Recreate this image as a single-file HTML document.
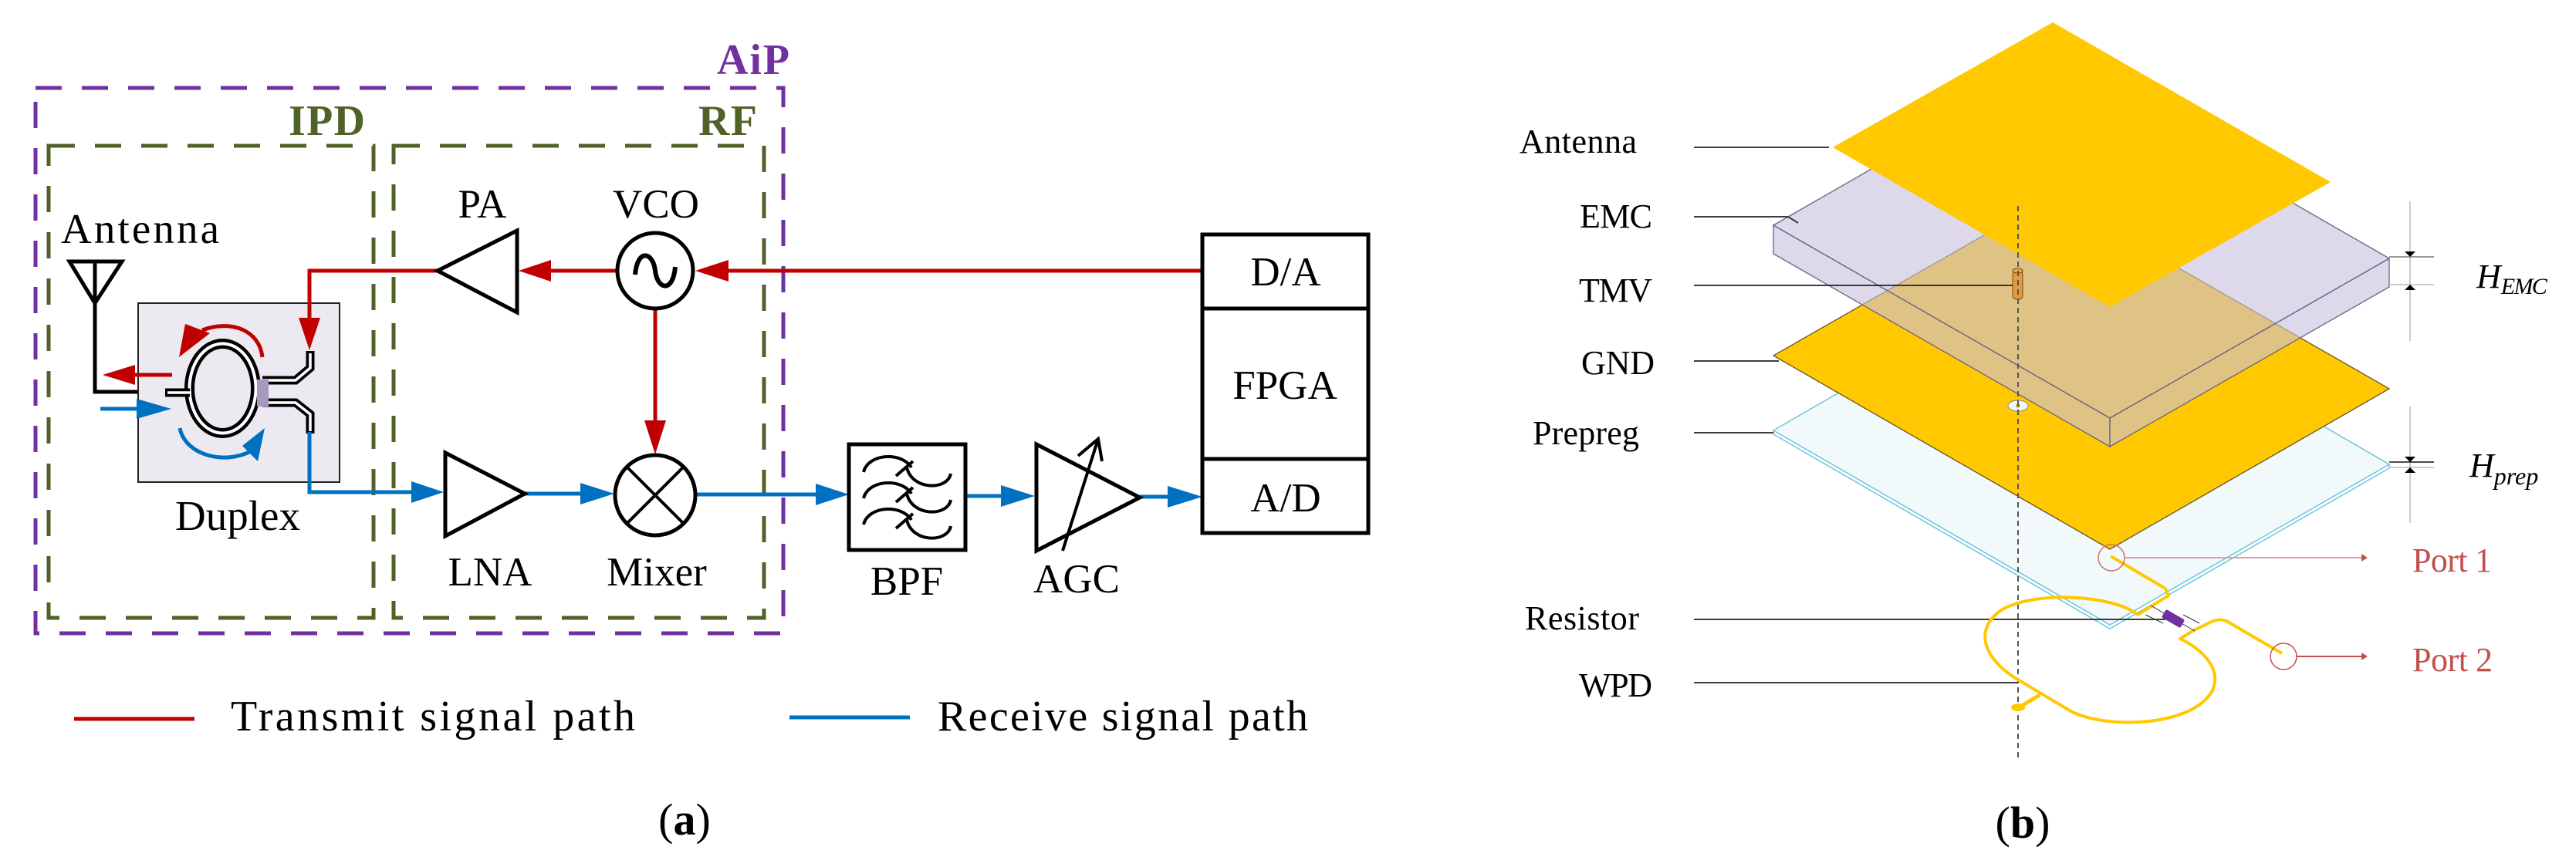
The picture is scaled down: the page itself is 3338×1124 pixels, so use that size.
<!DOCTYPE html>
<html><head><meta charset="utf-8"><style>
html,body{margin:0;padding:0;background:#fff;}
svg{display:block;}
text{font-family:"Liberation Serif",serif;}
</style></head><body>
<svg width="3338" height="1124" viewBox="0 0 3338 1124" xmlns="http://www.w3.org/2000/svg">
<rect width="3338" height="1124" fill="#fff"/>
<!-- ===== Panel (a) ===== -->
<g fill="none" stroke-width="5">
<rect x="46" y="114" width="969" height="707" stroke="#7030A0" stroke-dasharray="34,26"/>
<rect x="63" y="189" width="421" height="612" stroke="#4F6228" stroke-dasharray="34,26"/>
<rect x="510" y="189" width="480" height="612" stroke="#4F6228" stroke-dasharray="34,26"/>
</g>
<text x="929" y="96" font-size="56" font-weight="bold" fill="#7030A0" textLength="94">AiP</text>
<text x="374" y="175" font-size="56" font-weight="bold" fill="#4F6228" textLength="99">IPD</text>
<text x="905" y="175" font-size="56" font-weight="bold" fill="#4F6228" textLength="76">RF</text>
<text x="79" y="315" font-size="55" textLength="205">Antenna</text>
<!-- antenna symbol -->
<g stroke="#000" stroke-width="5" fill="none">
<polygon points="90,339 158,339 123,393"/>
<line x1="123" y1="339" x2="123" y2="393"/>
<polyline points="123,393 123,508 214,508"/>
</g>
<!-- duplex -->
<rect x="179" y="393" width="261" height="232" fill="#ECE9F1" stroke="#222" stroke-width="2"/>
<g fill="none" stroke-linejoin="miter">
<ellipse cx="288.5" cy="503.5" rx="43" ry="58" stroke="#000" stroke-width="13"/>
<ellipse cx="288.5" cy="503.5" rx="43" ry="58" stroke="#fff" stroke-width="4"/>
<polyline points="340,493 383,493 402,477 402,455" stroke="#000" stroke-width="11"/>
<polyline points="340,493 383,493 402,477 402,458" stroke="#fff" stroke-width="3.5"/>
<polyline points="340,522 383,522 402,537 402,562" stroke="#000" stroke-width="11"/>
<polyline points="340,522 383,522 402,537 402,559" stroke="#fff" stroke-width="3.5"/>
<polyline points="214,509 246,509" stroke="#000" stroke-width="11"/>
<polyline points="217,509 248,509" stroke="#fff" stroke-width="3.5"/>
</g>
<rect x="333" y="492" width="15" height="35" fill="#A898BE"/>
<!-- red arrows in duplex -->
<line x1="223" y1="486" x2="172" y2="486" stroke="#C00000" stroke-width="5"/>
<polygon points="133,486 175,473 175,499" fill="#C00000"/>
<path d="M340,463 C336,428 300,414 262,428" fill="none" stroke="#C00000" stroke-width="5"/>
<polygon points="232,463 240,420 272,432" fill="#C00000"/>
<line x1="130" y1="530" x2="180" y2="530" stroke="#0070C0" stroke-width="5"/>
<polygon points="222,530 177,517 177,543" fill="#0070C0"/>
<path d="M233,555 C240,590 290,603 325,585" fill="none" stroke="#0070C0" stroke-width="5"/>
<polygon points="343,555 334,598 314,578" fill="#0070C0"/>
<text x="308" y="687" font-size="55" text-anchor="middle">Duplex</text>
<!-- transmit path -->
<g stroke="#C00000" stroke-width="5" fill="none">
<polyline points="567,351 401,351 401,415"/>
<line x1="800" y1="351" x2="712" y2="351"/>
<line x1="1558" y1="351" x2="942" y2="351"/>
<line x1="849" y1="400" x2="849" y2="547"/>
</g>
<g fill="#C00000">
<polygon points="401,454 387,412 415,412"/>
<polygon points="672,351 714,337 714,365"/>
<polygon points="901,351 944,337 944,365"/>
<polygon points="849,589 835,545 863,545"/>
</g>
<!-- PA -->
<polygon points="567,351 670,299 670,405" fill="#fff" stroke="#000" stroke-width="5"/>
<text x="625" y="282" font-size="53" text-anchor="middle">PA</text>
<!-- VCO -->
<circle cx="849" cy="351" r="49" fill="#fff" stroke="#000" stroke-width="5"/>
<path d="M823,356 C826,322 846,326 849,351 C852,376 872,380 875,346" fill="none" stroke="#000" stroke-width="6"/>
<text x="850" y="282" font-size="53" text-anchor="middle">VCO</text>
<!-- receive path -->
<g stroke="#0070C0" stroke-width="5" fill="none">
<polyline points="401,560 401,638 537,638"/>
<line x1="680" y1="640" x2="754" y2="640"/>
<line x1="901" y1="641" x2="1059" y2="641"/>
<line x1="1251" y1="643" x2="1299" y2="643"/>
<line x1="1477" y1="644" x2="1515" y2="644"/>
</g>
<g fill="#0070C0">
<polygon points="575,638 533,624 533,652"/>
<polygon points="796,640 752,626 752,654"/>
<polygon points="1100,641 1057,627 1057,655"/>
<polygon points="1341,643 1297,629 1297,657"/>
<polygon points="1558,644 1513,630 1513,658"/>
</g>
<!-- LNA -->
<polygon points="577,587 577,695 680,640" fill="#fff" stroke="#000" stroke-width="5"/>
<text x="635" y="759" font-size="53" text-anchor="middle">LNA</text>
<!-- Mixer -->
<circle cx="849" cy="642" r="52" fill="#fff" stroke="#000" stroke-width="5"/>
<line x1="812" y1="605" x2="886" y2="679" stroke="#000" stroke-width="4"/>
<line x1="886" y1="605" x2="812" y2="679" stroke="#000" stroke-width="4"/>
<text x="851" y="759" font-size="53" text-anchor="middle">Mixer</text>
<!-- BPF -->
<rect x="1100" y="576" width="151" height="137" fill="#fff" stroke="#000" stroke-width="5"/>
<g fill="none" stroke="#000" stroke-width="4">
<path d="M1119,612 C1125,588 1168,585 1181,606"/>
<path d="M1119,646 C1125,622 1168,619 1181,640"/>
<path d="M1119,680 C1125,656 1168,653 1181,674"/>
<path d="M1175,606 C1182,636 1228,636 1232,614"/>
<path d="M1175,640 C1182,670 1228,670 1232,648"/>
<path d="M1175,674 C1182,704 1228,704 1232,682"/>
<line x1="1161" y1="617" x2="1183" y2="598"/>
<line x1="1161" y1="651" x2="1183" y2="632"/>
<line x1="1161" y1="685" x2="1183" y2="666"/>
</g>
<text x="1175" y="771" font-size="53" text-anchor="middle">BPF</text>
<!-- AGC -->
<polygon points="1343,576 1343,714 1477,645" fill="#fff" stroke="#000" stroke-width="5"/>
<g stroke="#000" stroke-width="4" fill="none">
<line x1="1377" y1="714" x2="1423" y2="569"/>
<polyline points="1397,591 1423,569 1428,598"/>
</g>
<text x="1395" y="768" font-size="53" text-anchor="middle">AGC</text>
<!-- FPGA -->
<rect x="1558" y="304" width="215" height="387" fill="#fff" stroke="#000" stroke-width="5"/>
<line x1="1558" y1="400" x2="1773" y2="400" stroke="#000" stroke-width="5"/>
<line x1="1558" y1="595" x2="1773" y2="595" stroke="#000" stroke-width="5"/>
<text x="1666" y="370" font-size="53" text-anchor="middle">D/A</text>
<text x="1665" y="517" font-size="53" text-anchor="middle">FPGA</text>
<text x="1666" y="663" font-size="53" text-anchor="middle">A/D</text>
<!-- legend -->
<line x1="96" y1="932" x2="252" y2="932" stroke="#C00000" stroke-width="5"/>
<text x="299" y="947" font-size="56" textLength="524">Transmit signal path</text>
<line x1="1023" y1="930" x2="1179" y2="930" stroke="#0070C0" stroke-width="5"/>
<text x="1215" y="947" font-size="56" textLength="480">Receive signal path</text>
<text x="887" y="1082" font-size="58" text-anchor="middle">(<tspan font-weight="bold">a</tspan>)</text>

<!-- ===== Panel (b) ===== -->
<!-- prepreg -->
<polygon points="2298,558 2660,349 3096,602 2734,810" fill="#F2F9FB" stroke="#6CC5DE" stroke-width="1.5"/>
<polyline points="2298,558 2298,563 2734,815 3096,607 3096,602" fill="none" stroke="#6CC5DE" stroke-width="1.5"/>
<!-- GND -->
<polygon points="2298,461 2660,254 3096,504 2734,712" fill="#FFC800" stroke="#5a4a20" stroke-width="1.2"/>
<circle cx="2615" cy="526" r="1" fill="#fff"/>
<ellipse cx="2615" cy="526" rx="13" ry="7" fill="#F2F8FC" stroke="#888" stroke-width="1"/>
<circle cx="2615" cy="526" r="2.5" fill="#b08a00"/>
<!-- EMC -->
<g fill="#C8C0DC" fill-opacity="0.6" stroke="#6a6088" stroke-width="1.3">
<polygon points="2298,292 2734,542 2734,579 2298,329"/>
<polygon points="2734,542 3096,335 3096,372 2734,579"/>
<polygon points="2298,292 2660,84 3096,335 2734,542"/>
</g>
<!-- TMV -->
<rect x="2608" y="351" width="13" height="37" rx="5" fill="#E39A3E" stroke="#7a4a10" stroke-width="1"/>
<ellipse cx="2614.5" cy="351" rx="6.5" ry="3" fill="#E8A750" stroke="#7a4a10" stroke-width="1"/>
<!-- antenna plate -->
<polygon points="2375,191 2660,29 3020,236 2734,398" fill="#FFC800"/>
<!-- dashed axis -->
<line x1="2615" y1="267" x2="2615" y2="983" stroke="#555" stroke-width="2" stroke-dasharray="7,5"/>
<!-- label lines -->
<g stroke="#222" stroke-width="1.8">
<line x1="2195" y1="191" x2="2370" y2="191"/>
<line x1="2195" y1="281" x2="2317" y2="281"/>
<line x1="2317" y1="281" x2="2330" y2="289"/>
<line x1="2195" y1="370" x2="2608" y2="370"/>
<line x1="2195" y1="468" x2="2305" y2="468"/>
<line x1="2195" y1="561" x2="2298" y2="561"/>
<line x1="2195" y1="803" x2="2806" y2="803"/>
<line x1="2195" y1="885" x2="2615" y2="885"/>
</g>
<g font-size="44">
<text x="1969" y="198" textLength="152">Antenna</text>
<text x="2047" y="295" textLength="94">EMC</text>
<text x="2046" y="391" textLength="95">TMV</text>
<text x="2049" y="485" textLength="95">GND</text>
<text x="1986" y="576" textLength="138">Prepreg</text>
<text x="1976" y="816" textLength="148">Resistor</text>
<text x="2046" y="903" textLength="95">WPD</text>
</g>
<!-- dimensions -->
<g stroke="#bbb" stroke-width="1.5">
<line x1="3123" y1="261" x2="3123" y2="442"/>
<line x1="3123" y1="527" x2="3123" y2="678"/>
<line x1="3096" y1="369" x2="3154" y2="369"/>
<line x1="3096" y1="606" x2="3154" y2="606"/>
</g>
<line x1="3096" y1="333" x2="3154" y2="333" stroke="#777" stroke-width="1.5"/>
<line x1="3096" y1="599" x2="3154" y2="599" stroke="#111" stroke-width="1.5"/>
<g fill="#000">
<polygon points="3116,326 3130,326 3123,333"/>
<polygon points="3116,376 3130,376 3123,369"/>
<polygon points="3116,592 3130,592 3123,599"/>
<polygon points="3116,613 3130,613 3123,606"/>
</g>
<text x="3209" y="373" font-size="44" font-style="italic">H<tspan font-size="30" dy="8" textLength="60">EMC</tspan></text>
<text x="3200" y="618" font-size="44" font-style="italic">H<tspan font-size="32" dy="10">prep</tspan></text>
<!-- WPD -->
<g fill="none" stroke="#FFC800" stroke-width="4" stroke-linejoin="round">
<polyline points="2735,721 2806,763 2810,772 2770,797"/>
<path d="M2770,797 C2740,772 2640,765 2595,790 C2560,812 2565,850 2613,880 L2680,920 C2720,945 2840,945 2867,895 C2880,865 2850,840 2825,828 L2843,817 L2868,805 C2880,801 2887,806 2890,808 L2957,847"/>
<line x1="2643" y1="901" x2="2618" y2="916" stroke-width="5"/>
</g>
<ellipse cx="2615" cy="917" rx="9" ry="5" fill="#FFC800"/>
<g stroke="#333" stroke-width="1">
<line x1="2787" y1="785" x2="2844" y2="818"/>
<line x1="2780" y1="797" x2="2803" y2="808"/>
<line x1="2829" y1="797" x2="2850" y2="808"/>
</g>
<rect x="2802" y="796" width="28" height="12" rx="2" fill="#7030A0" transform="rotate(30 2816 802)"/>
<!-- ports -->
<ellipse cx="2736" cy="723" rx="17" ry="17" fill="none" stroke="#C87070" stroke-width="1.5"/>
<line x1="2753" y1="723" x2="3062" y2="723" stroke="#D8A0A0" stroke-width="2"/>
<polygon points="3068,723 3060,718 3060,728" fill="#C0504D"/>
<ellipse cx="2959" cy="851" rx="17" ry="17" fill="none" stroke="#C0504D" stroke-width="1.5"/>
<line x1="2976" y1="851" x2="3062" y2="851" stroke="#C0504D" stroke-width="2"/>
<polygon points="3068,851 3060,846 3060,856" fill="#C0504D"/>
<text x="3126" y="741" font-size="44" fill="#C0504D" textLength="103">Port 1</text>
<text x="3126" y="870" font-size="44" fill="#C0504D" textLength="104">Port 2</text>
<text x="2621" y="1086" font-size="58" text-anchor="middle">(<tspan font-weight="bold">b</tspan>)</text>
</svg>
</body></html>
